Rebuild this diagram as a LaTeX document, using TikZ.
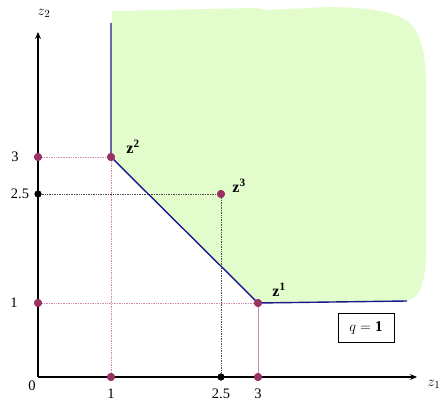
\documentclass[tikz,border=0pt]{standalone}
\usepackage{fontspec}
\setmainfont{Liberation Serif}
\usetikzlibrary{arrows.meta}
\definecolor{regfill}{RGB}{226,252,204}
\definecolor{frontier}{RGB}{25,25,140}
\definecolor{ptcol}{RGB}{153,51,102}
\definecolor{guide}{RGB}{210,140,175}
\begin{document}
\begin{tikzpicture}[x=1pt,y=-1pt,
  axis/.style={line width=1.3pt,-{Stealth[length=7pt,width=6pt]}},
  pt/.style={circle,fill=ptcol,inner sep=0pt,minimum size=8pt},
  bpt/.style={circle,fill=black,inner sep=0pt,minimum size=7pt},
  pguide/.style={guide,line width=0.7pt,densely dotted},
  sguide/.style={guide,line width=0.9pt},
  kguide/.style={black!70,line width=0.7pt,densely dotted},
  tick/.style={font=\fontsize{14.5}{15}\selectfont,inner sep=0pt},
  plab/.style={font=\fontsize{16}{17}\selectfont\bfseries,inner sep=0pt},
  front/.style={frontier,line width=1.4pt}]
\useasboundingbox (0,0) rectangle (445,401);
% feasible region
\fill[regfill] (112,11) -- (257,8) -- (266,10) -- (330,7)
  .. controls (385,8) and (408,15) .. (417,33)
  .. controls (425,50) and (426,65) .. (426,95) -- (426,250)
  .. controls (426,282) and (420,298) .. (407,301) -- (258,303) -- (111,157) -- cycle;
% coordinates
\coordinate (O) at (38,377);
\coordinate (ytop) at (38,32);
\coordinate (xend) at (417,377);
\coordinate (ftop) at (111,23);
\coordinate (fend) at (407,301);
% points
\node[pt] (z2) at (111,157) {};
\node[pt] (z3) at (221,194) {};
\node[pt] (z1) at (258,303) {};
\node[pt] (y3) at (38,157) {};
\node[bpt] (y25) at (38,194) {};
\node[pt] (y1) at (38,303) {};
\node[pt] (x1) at (111,377) {};
\node[bpt] (x25) at (221,377) {};
\node[pt] (x3) at (258,377) {};
% guides
\draw[pguide] (y3) -- (z2);
\draw[pguide] (z2) -- (x1);
\draw[kguide] (y25) -- (z3);
\draw[kguide] (z3) -- (x25);
\draw[pguide] (y1) -- (z1);
\draw[sguide] (z1) -- (x3);
% frontier
\draw[front] (ftop) -- (z2.center) -- (z1.center) -- (fend);
% axes
\draw[axis] (O) -- (ytop);
\draw[axis] (O) -- (xend);
\node[pt] at (y3) {};
\node[bpt] at (y25) {};
\node[pt] at (y1) {};
\node[pt] at (x1) {};
\node[bpt] at (x25) {};
\node[pt] at (x3) {};
\node[pt] at (z2) {};
\node[pt] at (z3) {};
\node[pt] at (z1) {};
% axis labels
\node[font=\fontsize{15}{16}\selectfont] (lz2) at (44,13) {$z_2$};
\node[font=\fontsize{15}{16}\selectfont] (lz1) at (434,384) {$z_1$};
% tick labels
\node[tick] (t3) at (15,157) {3};
\node[tick] (t25) at (20,194) {2.5};
\node[tick] (t1) at (14,303) {1};
\node[tick] (t0) at (32,386) {0};
\node[tick,anchor=base] (b1) at (111,398) {1};
\node[tick,anchor=base] (b25) at (221,398) {2.5};
\node[tick,anchor=base] (b3) at (258,398) {3};
% point labels
\node[plab] (lp2) at (133,147) {$\mathbf{z}^{\mathbf{2}}$};
\node[plab] (lp3) at (239,186) {$\mathbf{z}^{\mathbf{3}}$};
\node[plab] (lp1) at (279,290) {$\mathbf{z}^{\mathbf{1}}$};
% q box
\node[draw,line width=0.6pt,minimum width=56pt,minimum height=29pt,font=\fontsize{15}{16}\selectfont] (qb) at (366,328) {$q=\mathbf{1}$};
\end{tikzpicture}
\end{document}
